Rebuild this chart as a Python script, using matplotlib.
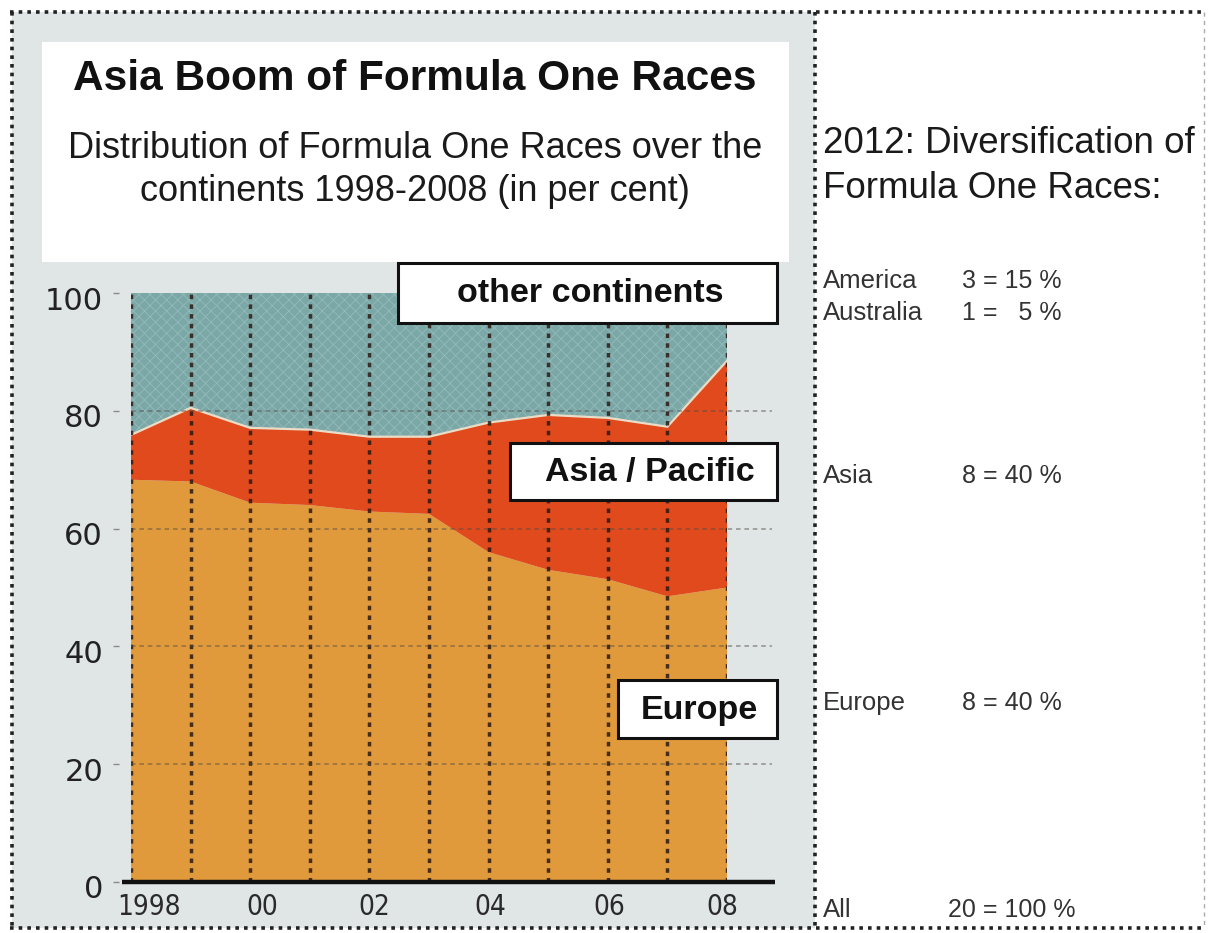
import matplotlib
matplotlib.use('Agg')
import matplotlib.pyplot as plt
from matplotlib.patches import Rectangle
from matplotlib.lines import Line2D
from matplotlib import font_manager
import matplotlib.transforms as mtransforms

# ---------------- data ----------------
years = [1998, 1999, 2000, 2001, 2002, 2003, 2004, 2005, 2006, 2007, 2008]
europe = [68.3, 68.0, 64.4, 64.0, 62.9, 62.5, 56.0, 53.0, 51.4, 48.5, 50.0]
asia_pacific = [7.6, 12.5, 12.7, 12.8, 12.7, 13.1, 22.0, 26.3, 27.4, 28.8, 38.5]
other_continents = [24.1, 19.5, 22.9, 23.2, 24.4, 24.4, 22.0, 20.7, 21.2, 22.7, 11.5]

x_tick_years = [1998, 2000, 2002, 2004, 2006, 2008]
x_tick_labels = ['1998', '00', '02', '04', '06', '08']
y_ticks = [0, 20, 40, 60, 80, 100]
y_tick_labels = ['0', '20', '40', '60', '80', '100']

regions_2012 = ['America', 'Australia', 'Asia', 'Europe', 'All']
races_2012 = [3, 1, 8, 8, 20]
share_2012 = [15, 5, 40, 40, 100]

title = 'Asia Boom of Formula One Races'
subtitle = 'Distribution of Formula One Races over the\ncontinents 1998-2008 (in per cent)'
side_title = '2012: Diversification of\nFormula One Races:'

# ---------------- layout helpers ----------------
W, H = 1209, 933
DPI = 100
fig = plt.figure(figsize=(W / DPI, H / DPI), dpi=DPI)
fig.patch.set_facecolor('white')


def fx(px):
    return px / W


def fy(py):
    return 1 - py / H


def rect(x0, y0, x1, y1, **kw):
    r = Rectangle((fx(x0), fy(y1)), (x1 - x0) / W, (y1 - y0) / H,
                  transform=fig.transFigure, **kw)
    fig.add_artist(r)
    return r


names = {f.name for f in font_manager.fontManager.ttflist}
SANS = 'Liberation Sans' if 'Liberation Sans' in names else 'DejaVu Sans'
if 'Liberation Sans Narrow' in names:
    NARROW, NARROW_SIZE, NARROW_STRETCH = 'Liberation Sans Narrow', 24, 'normal'
else:
    NARROW, NARROW_SIZE, NARROW_STRETCH = 'DejaVu Sans', 20, 'condensed'

# colours
C_OTHER = '#7ca7a7'
C_ASIA = '#e04a1d'
C_EUROPE = '#e19a3b'
C_PAPER = '#e0e5e5'

# left panel paper background
rect(12, 12, 815, 928, facecolor=C_PAPER, edgecolor='none', zorder=-5)
# title box
rect(42, 42, 789, 262, facecolor='white', edgecolor='none', zorder=2)

fig.text(fx(415), fy(79), title, family=SANS, fontsize=30.5, fontweight='bold',
         ha='center', va='center', color='#111111', zorder=3)
fig.text(fx(415), fy(170), subtitle, family=SANS, fontsize=26, ha='center',
         va='center', color='#1a1a1a', linespacing=1.3, zorder=3)

# ---------------- chart ----------------
ax = fig.add_axes([fx(131), fy(882), (727 - 131) / W, (882 - 293) / H])
ax.set_facecolor('none')
plt.rcParams['hatch.linewidth'] = 0.6
polys = ax.stackplot(years, europe, asia_pacific, other_continents,
                     colors=[C_EUROPE, C_ASIA, C_OTHER], linewidth=0)
polys[2].set_hatch('xxx')
polys[2].set_edgecolor('#92bcbb')

# light seam between Asia and other continents
top_asia = [e + a for e, a in zip(europe, asia_pacific)]
ax.plot(years, top_asia, color='#eadcc6', lw=1.6, zorder=2)

ax.set_xlim(years[0], years[-1])
ax.set_ylim(0, 100)

# vertical dotted gridlines
ax.vlines(years, 0, 100, colors='#2b1a12', linewidth=2.5, alpha=0.85,
          linestyles=[(0, (1.3, 1.5))], zorder=3)
# horizontal dashed gridlines (extend to the right)
ax.hlines(y_ticks[1:-1], years[0], years[-1] + 0.75, colors='#4d4a46',
          linewidth=1.1, alpha=0.55, linestyles=[(0, (3, 2.5))], zorder=3,
          clip_on=False)
# baseline
ax.plot([years[0] - 0.15, years[-1] + 0.8], [0, 0], color='#111111', lw=3.2,
        solid_capstyle='butt', clip_on=False, zorder=4)

for s in ['top', 'right', 'bottom']:
    ax.spines[s].set_visible(False)
ax.spines['left'].set_position(('outward', 8.6))
ax.spines['left'].set_color('none')

ax.set_yticks(y_ticks, y_tick_labels)
ax.tick_params(axis='y', length=4.5, width=1.0, color='#8a8a8a', pad=7,
               labelsize=22, labelcolor='#222222')
for lab in ax.get_yticklabels():
    lab.set_family('DejaVu Sans')
    lab.set_transform(lab.get_transform() +
                      mtransforms.ScaledTranslation(0, -0.05, fig.dpi_scale_trans))

ax.set_xticks(x_tick_years, x_tick_labels)
ax.tick_params(axis='x', length=0, pad=8, labelsize=NARROW_SIZE,
               labelcolor='#2a2a2a')
x_offsets_px = [18, 12, 5, 2, 1, -5]
for lab, off in zip(ax.get_xticklabels(), x_offsets_px):
    lab.set_family(NARROW)
    lab.set_fontstretch(NARROW_STRETCH)
    lab.set_transform(lab.get_transform() +
                      mtransforms.ScaledTranslation(off / DPI, 0, fig.dpi_scale_trans))

# ---------------- series label boxes ----------------
boxes = [
    ('other continents', 398, 263, 777, 323, 590),
    ('Asia / Pacific', 510, 443, 777, 500, 650),
    ('Europe', 618, 680, 777, 738, 699),
]
for txt, x0, y0, x1, y1, cx in boxes:
    rect(x0, y0, x1, y1, facecolor='white', edgecolor='#111111', linewidth=2.2,
         zorder=6)
    fig.text(fx(cx), fy((y0 + y1) / 2 + 1), txt, family=SANS, fontsize=24.5,
             fontweight='bold', ha='center', va='center', color='#111111',
             zorder=7)

# ---------------- right panel ----------------
fig.text(fx(823), fy(166), side_title, family=SANS, fontsize=26.5, ha='left',
         va='center', color='#1a1a1a', linespacing=1.35)

row_baselines = [288, 320, 483, 710, 917]
num_x = [962, 962, 962, 962, 948]
for name, n, p, yb, nx in zip(regions_2012, races_2012, share_2012,
                              row_baselines, num_x):
    pad = '  ' * max(0, 2 - len(str(p)))
    fig.text(fx(823), fy(yb), name, family=SANS, fontsize=18.5, ha='left',
             va='baseline', color='#333333')
    fig.text(fx(nx), fy(yb), f'{n} = {pad}{p} %', family=SANS, fontsize=18,
             ha='left', va='baseline', color='#333333')

# ---------------- dotted frame ----------------
dot = (0, (1, 1.4))
frame_kw = dict(transform=fig.transFigure, color='#222222', linewidth=2.6,
                linestyle=dot, zorder=8)
fig.add_artist(Line2D([fx(10), fx(1206)], [fy(12), fy(12)], **frame_kw))
fig.add_artist(Line2D([fx(10), fx(1206)], [fy(928), fy(928)], **frame_kw))
fig.add_artist(Line2D([fx(12), fx(12)], [fy(12), fy(928)], **frame_kw))
fig.add_artist(Line2D([fx(815), fx(815)], [fy(12), fy(928)], **frame_kw))
fig.add_artist(Line2D([fx(1204), fx(1204)], [fy(12), fy(928)],
                      transform=fig.transFigure, color='#aaaaaa', linewidth=1.0,
                      linestyle=(0, (3, 3)), zorder=8))

fig.savefig('out.png', dpi=DPI)
